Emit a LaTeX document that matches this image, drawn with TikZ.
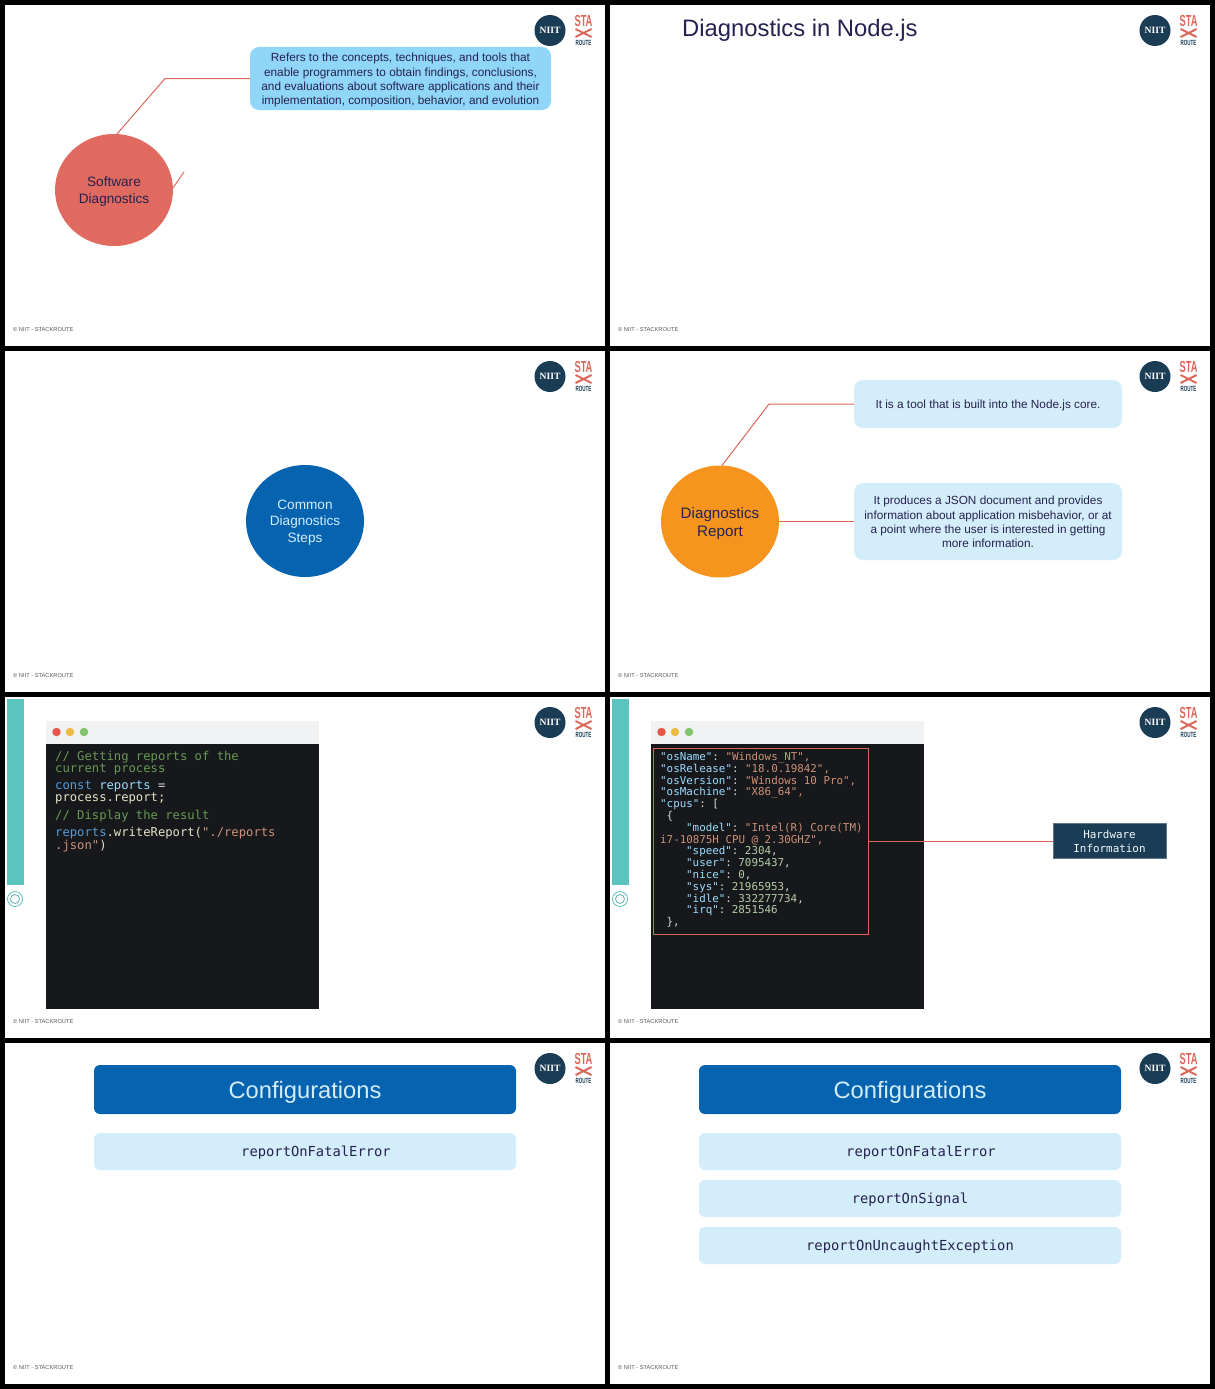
\documentclass[tikz,border=0pt]{standalone}
\usepackage{fontspec}
\setmainfont{Liberation Sans}
\setsansfont{Liberation Sans}
\setmonofont{DejaVu Sans Mono}
\newfontfamily\logofont{Liberation Serif}
\usetikzlibrary{shapes.geometric}
\definecolor{nnavy}{HTML}{1B3C55}
\definecolor{nink}{HTML}{25224F}
\definecolor{nred}{HTML}{E06A5F}
\definecolor{nline}{HTML}{D9685A}
\definecolor{nblue}{HTML}{0563B0}
\definecolor{nsky}{HTML}{8FD6F9}
\definecolor{npale}{HTML}{D4EDFA}
\definecolor{norange}{HTML}{F7941D}
\definecolor{nteal}{HTML}{5BC4BF}
\definecolor{ncode}{HTML}{16181B}
\definecolor{nbar}{HTML}{F1F2F4}
\definecolor{dred}{HTML}{E5574C}
\definecolor{dyel}{HTML}{EDBB45}
\definecolor{dgrn}{HTML}{82C46E}
\definecolor{ccom}{HTML}{6A9955}
\definecolor{ckey}{HTML}{9CDCFE}
\definecolor{cdef}{HTML}{569CD6}
\definecolor{cstr}{HTML}{CE9178}
\definecolor{cnum}{HTML}{B5CEA8}
\definecolor{cfun}{HTML}{E6E3C8}
\definecolor{cplain}{HTML}{D8D8D8}
\newcommand{\jk}[1]{\textcolor{ckey}{"#1"}\textcolor{cplain}{:}}
\newcommand{\js}[1]{\textcolor{cstr}{#1}}
\newcommand{\jn}[1]{\textcolor{cnum}{#1}\textcolor{cplain}{,}}
\newcommand{\fsz}[2]{\fontsize{#1}{#2}\selectfont}
\newcommand{\drop}[1]{\rule{0pt}{#1pt}}
\begin{document}
\begin{tikzpicture}[
  x=1pt,y=-1pt,
  disc/.style={ellipse,minimum width=118pt,minimum height=112pt,inner sep=0pt,outer sep=0pt,align=center},
  note/.style={rounded corners=9pt,fill=npale,inner sep=0pt,outer sep=0pt,align=center,
               text=nink,font=\fsz{11.8}{14.3}},
  link/.style={draw=nline,line width=1pt},
  head/.style={rounded corners=6pt,fill=nblue,inner sep=0pt,minimum width=422pt,minimum height=49pt,
               text=npale,font=\fsz{23.7}{28}},
  row/.style={rounded corners=6pt,fill=npale,inner sep=0pt,minimum width=422pt,minimum height=37pt},
  rowtxt/.style={inner sep=0pt,text=nink,font=\ttfamily\fsz{13.8}{16}},
  code/.style={inner sep=0pt,anchor=north west,align=left,font=\ttfamily\fsz{12.2}{11.8}},
  dot/.style={circle,inner sep=0pt,minimum size=8.5pt}]

\useasboundingbox (0,0) rectangle (1215,1389);
\fill[black] (0,0) rectangle (1215,1389);

% ---------------- the eight slides: logo and footer ----------------
\foreach \n/\dx/\dy in {1/0/0,2/605/0,3/0/346,4/605/346,5/0/692,6/605/692,7/0/1038,8/605/1038}{
  \begin{scope}[shift={(\dx,\dy)}]
    \fill[white] (5,5) rectangle (605,345.5);
    \node[circle,fill=nnavy,minimum size=31pt,inner sep=0pt,text=white,
          font=\logofont\bfseries\fsz{9.6}{10}] (logo\n) at (550,30.5) {NIIT};
    \node[inner sep=0pt,text=nline,font=\bfseries\fsz{16}{16}] (sta\n) at (583.5,21) {\scalebox{0.58}[1]{STA}};
    \coordinate (xa\n) at (575.5,29);
    \coordinate (xb\n) at (591.5,37);
    \coordinate (xc\n) at (591.5,29);
    \coordinate (xd\n) at (575.5,37);
    \draw[nline,line width=2pt] (xa\n) -- (xb\n) (xc\n) -- (xd\n);
    \node[inner sep=0pt,text=nnavy,font=\bfseries\fsz{7.5}{8}] (route\n) at (583.5,42.5) {\scalebox{0.6}[1]{ROUTE}};
    \node[inner sep=0pt,anchor=west,text=black!65,font=\fsz{5.7}{6}] (foot\n) at (13,329.5) {© NIIT - STACKROUTE};
  \end{scope}
}

% ---------------- slide 1: software diagnostics ----------------
\node[disc,fill=nred,text=nink,font=\fsz{13.6}{16.3}] (sd) at (114,190) {\drop{12.8}Software\\Diagnostics};
\node[note,fill=nsky,minimum width=301pt,minimum height=63pt] (sdnote) at (400.5,78.5)
  {\drop{12}Refers to the concepts, techniques, and tools that\\enable programmers to obtain findings, conclusions,\\and evaluations about software applications and their\\implementation, composition, behavior, and evolution};
\coordinate (sdbend) at (165,78.5);
\coordinate (sdstub) at (184,172);
\draw[link] (sd.87) -- (sdbend) -- (sdnote.west);
\draw[link,draw=nred] (sd.2) -- (sdstub);

% ---------------- slide 2: title only ----------------
\node[inner sep=0pt,anchor=west,text=nink,font=\fsz{23.8}{28}] (dntitle) at (682,30) {Diagnostics in Node.js};

% ---------------- slide 3: steps ----------------
\node[disc,fill=nblue,text=npale,font=\fsz{13.6}{16.3}] (steps) at (305,521)
  {\drop{12.8}Common\\Diagnostics\\Steps};

% ---------------- slide 4: diagnostics report ----------------
\node[disc,fill=norange,text=nink,font=\fsz{15.2}{18.5}] (rep) at (720,521.5)
  {\drop{15}Diagnostics\\Report};
\node[note,minimum width=268pt,minimum height=48pt] (repa) at (988,404)
  {\drop{10.5}It is a tool that is built into the Node.js core.};
\node[note,minimum width=268pt,minimum height=77pt] (repb) at (988,521.5)
  {\drop{10}It produces a JSON document and provides\\information about application misbehavior, or at\\a point where the user is interested in getting\\more information.};
\coordinate (repbend) at (769,404);
\draw[link] (rep.88) -- (repbend) -- (repa.west);
\draw[link] (rep.east) -- (repb.west);

% ---------------- slides 5 and 6: code window ----------------
\foreach \n/\dx in {5/0,6/605}{
  \begin{scope}[shift={(\dx,0)}]
    \fill[nteal] (7,699) rectangle (24,885);
    \node[circle,draw=nteal,line width=0.8pt,minimum size=15pt,inner sep=0pt] (ringo\n) at (15,899) {};
    \node[circle,draw=nteal!70!gray,line width=0.8pt,minimum size=9pt,inner sep=0pt] (ringi\n) at (15,899) {};
    \fill[nbar] (46,721) rectangle (319,744);
    \fill[ncode] (46,744) rectangle (319,1009);
    \node[dot,fill=dred] (dotr\n) at (56.5,732) {};
    \node[dot,fill=dyel] (doty\n) at (70,732) {};
    \node[dot,fill=dgrn] (dotg\n) at (84,732) {};
  \end{scope}
}
\node[code,text=ccom] (cma) at (55,751) {// Getting reports of the\\current process};
\node[code] (cdecl) at (55,780.5) {\textcolor{cdef}{const} \textcolor{ckey}{reports} \textcolor{cplain}{=}\\\textcolor{cfun}{process.report;}};
\node[code,text=ccom] (cmb) at (55,809.5) {// Display the result};
\node[code] (ccall) at (55,827) {\textcolor{cdef}{reports}\textcolor{cfun}{.writeReport(}\textcolor{cstr}{"./reports}\\\textcolor{cstr}{.json"}\textcolor{cfun}{)}};

\node[code,font=\ttfamily\fsz{10.85}{11.8}] (json) at (660,752)
  {\jk{osName} \js{"Windows\_NT",}\\
   \jk{osRelease} \js{"18.0.19842",}\\
   \jk{osVersion} \js{"Windows 10 Pro",}\\
   \jk{osMachine} \js{"X86\_64",}\\
   \jk{cpus} \textcolor{cplain}{[}\\
   \hspace*{6.5pt}\textcolor{cplain}{\{}\\
   \hspace*{26pt}\jk{model} \js{"Intel(R) Core(TM)}\\
   \js{i7-10875H CPU @ 2.30GHZ",}\\
   \hspace*{26pt}\jk{speed} \jn{2304}\\
   \hspace*{26pt}\jk{user} \jn{7095437}\\
   \hspace*{26pt}\jk{nice} \jn{0}\\
   \hspace*{26pt}\jk{sys} \jn{21965953}\\
   \hspace*{26pt}\jk{idle} \jn{332277734}\\
   \hspace*{26pt}\jk{irq} \textcolor{cnum}{2851546}\\
   \hspace*{6.5pt}\textcolor{cplain}{\},}};
\node[draw=nline,line width=1pt,minimum width=215pt,minimum height=186pt,inner sep=0pt,outer sep=0pt] (jsonbox) at (760.5,841) {};
\node[fill=nnavy,draw=nnavy!70!white,minimum width=113pt,minimum height=35pt,inner sep=0pt,outer sep=0pt,
      align=center,text=white!88!nsky,font=\ttfamily\fsz{10.9}{14}] (hw) at (1109.5,841) {Hardware\\Information};
\draw[link] (jsonbox.east) -- (hw.west);

% ---------------- slide 7: configurations, first row ----------------
\node[head] (cfa) at (305,1089.5) {\drop{23.3}Configurations};
\node[row] (cfa1) at (305,1151.5) {};
\node[rowtxt] (cfa1t) at (316,1152.5) {reportOnFatalError};

% ---------------- slide 8: configurations, all rows ----------------
\node[head] (cfb) at (910,1089.5) {\drop{23.3}Configurations};
\node[row] (cfb1) at (910,1151.5) {};
\node[rowtxt] (cfb1t) at (921,1152.5) {reportOnFatalError};
\node[row] (cfb2) at (910,1198.5) {};
\node[rowtxt] (cfb2t) at (910,1199.5) {reportOnSignal};
\node[row] (cfb3) at (910,1245.5) {};
\node[rowtxt] (cfb3t) at (910,1246.5) {reportOnUncaughtException};
\end{tikzpicture}
\end{document}
